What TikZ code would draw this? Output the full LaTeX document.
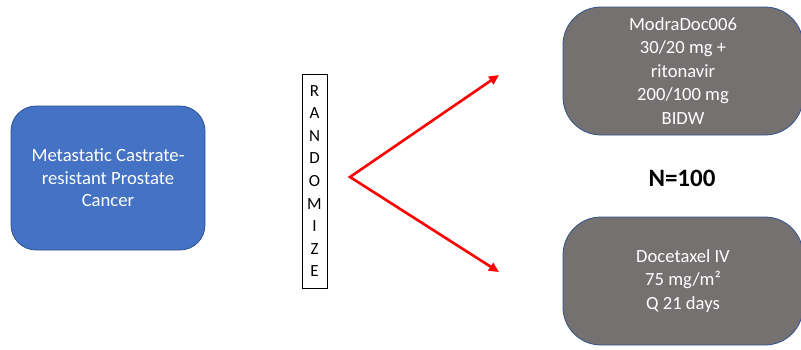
\documentclass[tikz,border=0pt]{standalone}
\usepackage{fontspec}
\setmainfont{Carlito}
\usetikzlibrary{arrows.meta}
\definecolor{bluefill}{HTML}{4472C4}
\definecolor{blueline}{HTML}{2F528F}
\definecolor{grayfill}{HTML}{767171}
\tikzset{
  patientbox/.style={draw=blueline, line width=0.8pt, fill=bluefill, rounded corners=25pt,
    minimum width=194pt, minimum height=144pt, align=center, text=white,
    font=\fontsize{18.7}{22.5}\selectfont, inner sep=0pt},
  armbox/.style={draw=blueline, line width=0.8pt, fill=grayfill, rounded corners=38pt,
    minimum width=240pt, minimum height=128pt, align=center, text=white,
    font=\fontsize{18.6}{23.5}\selectfont, inner sep=0pt},
  randbox/.style={draw=black, line width=0.7pt, fill=white, minimum width=25pt,
    minimum height=214pt, align=center, inner sep=0pt,
    font=\fontsize{17}{22.6}\selectfont},
  redarrow/.style={draw=red, line width=2.6pt, line join=miter,
    {Triangle[length=10pt,width=9pt]}-{Triangle[length=10pt,width=9pt]}},
}
\begin{document}
\begin{tikzpicture}[x=1pt,y=-1pt]
\clip (0,0) rectangle (801,349);
\useasboundingbox (0,0) rectangle (801,349);
\node[patientbox] (pat) at (108,178) {Metastatic Castrate-\\resistant Prostate\\Cancer};
\node[randbox] (rand) at (314.5,181) {R\\A\\N\\D\\O\\M\\I\\Z\\E};
\node[armbox] (arm1) at (683,71) {ModraDoc006\\30/20 mg +\\ritonavir\\200/100 mg\\BIDW};
\node[armbox] (arm2) at (683,281) {Docetaxel IV\\75 mg/m²\\Q 21 days};
\node[font=\bfseries\fontsize{25}{29}\selectfont] (n) at (682,178) {N=100};
\coordinate (split) at (350,177);
\coordinate (tipA) at (499,75);
\coordinate (tipB) at (499,272);
\draw[redarrow] (tipA) -- (split) -- (tipB);
\end{tikzpicture}
\end{document}
